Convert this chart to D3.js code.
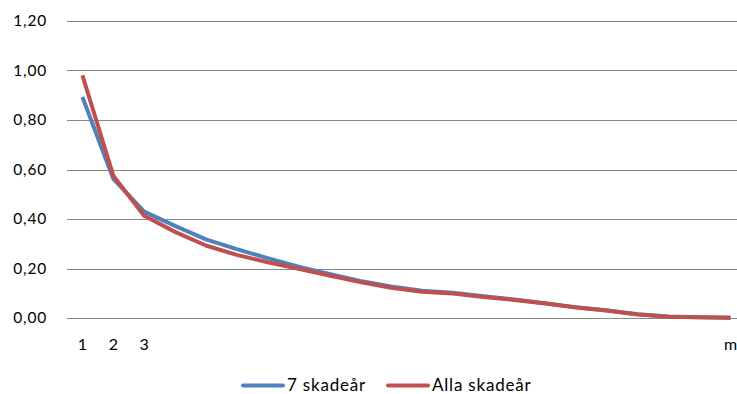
<!DOCTYPE html>
<html>
<head>
<meta charset="utf-8">
<script src="https://cdn.jsdelivr.net/npm/d3@7/dist/d3.min.js"></script>
<style>
  html, body { margin: 0; padding: 0; background: #fff; }
  svg { display: block; }
  text { font-family: Lato, "Open Sans", sans-serif; fill: #000; }
</style>
</head>
<body>
<svg id="chart" width="737" height="394"></svg>
<script>
// Development periods 1..m
const periods = d3.range(1, 23);
const tickLabels = ["1", "2", "3", "", "", "", "", "", "", "", "", "", "", "", "", "", "", "", "", "", "", "m"];

const seriesNames = ["7 skadeår", "Alla skadeår"];
const seriesColors = ["#4F81BD", "#C0504D"];

const sevenYears = [0.893, 0.562, 0.430, 0.372, 0.318, 0.278, 0.242, 0.207, 0.178, 0.150, 0.127, 0.110, 0.102, 0.088, 0.075, 0.060, 0.043, 0.030, 0.015, 0.006, 0.003, 0.001];
const allYears   = [0.980, 0.575, 0.413, 0.348, 0.293, 0.255, 0.225, 0.199, 0.172, 0.145, 0.122, 0.106, 0.099, 0.085, 0.073, 0.059, 0.042, 0.030, 0.014, 0.005, 0.003, 0.001];

const yTicks = [0, 0.2, 0.4, 0.6, 0.8, 1.0, 1.2];

const svg = d3.select("#chart");
const margin = { left: 67, right: -9, top: 21, bottom: 76 };
const W = 737, H = 394;

const x = d3.scaleBand()
  .domain(periods)
  .range([margin.left, W - margin.right])
  .paddingInner(0).paddingOuter(0);

const y = d3.scaleLinear()
  .domain([0, 1.2])
  .range([H - margin.bottom, margin.top]);

const fmt = v => d3.format(".2f")(v).replace(".", ",");

// horizontal gridlines
svg.append("g")
  .selectAll("line")
  .data(yTicks)
  .join("line")
  .attr("x1", margin.left)
  .attr("x2", W - margin.right)
  .attr("y1", d => Math.round(y(d)) + 0.5)
  .attr("y2", d => Math.round(y(d)) + 0.5)
  .attr("stroke", "#898989")
  .attr("stroke-width", 1);

// y axis labels
const yAxis = d3.axisLeft(y).tickValues(yTicks).tickFormat(fmt).tickSize(0).tickPadding(20);
const gy = svg.append("g").attr("transform", `translate(${margin.left},0)`).call(yAxis);
gy.select(".domain").remove();
gy.selectAll("text")
  .style("font-size", "15.5px").style("font-family", "Lato, sans-serif")
  .style("letter-spacing", "0.8px").attr("fill", "#000");

// x axis labels
const xAxis = d3.axisBottom(x).tickFormat((d, i) => tickLabels[i]).tickSize(0).tickPadding(21);
const gx = svg.append("g").attr("transform", `translate(0,${y(0)})`).call(xAxis);
gx.select(".domain").remove();
gx.selectAll("text")
  .style("font-size", "16px").style("font-family", "Lato, sans-serif").attr("fill", "#000");

// series lines
const line = d3.line()
  .x((d, i) => x(periods[i]) + x.bandwidth() / 2)
  .y(d => y(d));

[sevenYears, allYears].forEach((vals, k) => {
  svg.append("path")
    .datum(vals)
    .attr("fill", "none")
    .attr("stroke", seriesColors[k])
    .attr("stroke-width", 4)
    .attr("stroke-linejoin", "round")
    .attr("d", line);
});

// legend
const legendY = 385.5;
const legendItems = [{ x: 243, name: seriesNames[0], color: seriesColors[0] },
                     { x: 388, name: seriesNames[1], color: seriesColors[1] }];
const lg = svg.append("g");
legendItems.forEach(it => {
  lg.append("line")
    .attr("x1", it.x).attr("x2", it.x + 40)
    .attr("y1", legendY).attr("y2", legendY)
    .attr("stroke", it.color).attr("stroke-width", 4).attr("stroke-linecap", "round");
  lg.append("text")
    .attr("x", it.x + 44).attr("y", 390.5)
    .style("font-size", "17px")
    .style("letter-spacing", "0.8px")
    .text(it.name);
});
</script>
</body>
</html>
